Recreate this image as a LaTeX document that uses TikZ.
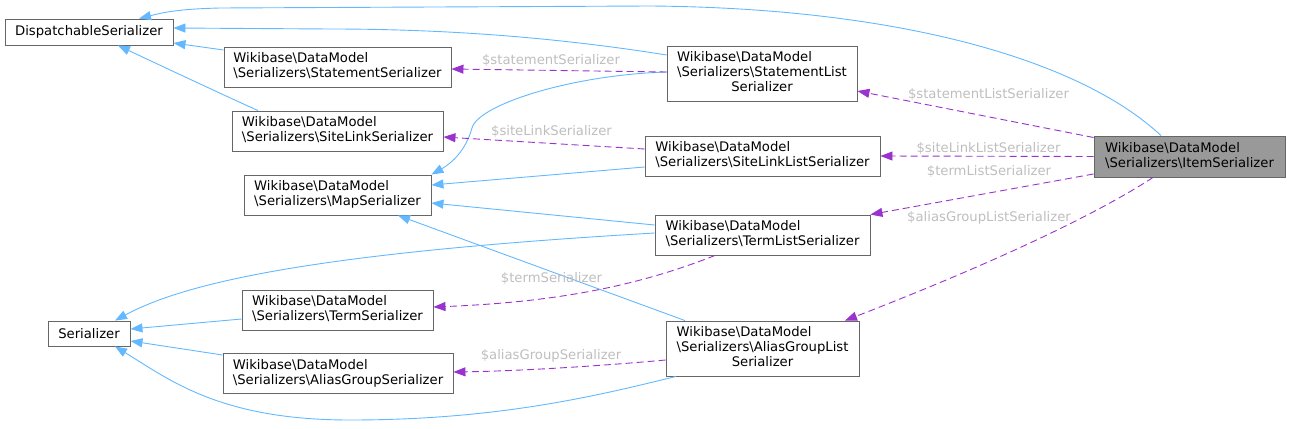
\documentclass[tikz,border=0pt]{standalone}
\usepackage{fontspec}
\setmainfont{DejaVu Sans}
\usepackage{xcolor}
\usetikzlibrary{arrows.meta, positioning, calc}
\definecolor{inheritblue}{HTML}{63B8FF}
\definecolor{memberpurple}{HTML}{9A32CD}
\definecolor{boxgray}{HTML}{666666}
\definecolor{labelgray}{HTML}{BEBEBE}
\definecolor{focusgray}{HTML}{999999}
\newcommand{\bsl}{\textbackslash}
\newcommand{\clsTwo}[2]{\begin{tabular}{@{}l@{}}#1\\#2\end{tabular}}
\newcommand{\clsThree}[3]{\begin{tabular}{@{}l@{}}#1\\#2\\\multicolumn{1}{@{}c@{}}{#3}\end{tabular}}

\begin{document}
\begin{tikzpicture}[x=1pt, y=-1pt,
    cls/.style={draw=boxgray, fill=white, line width=0.9pt, inner sep=0pt, font=\fontsize{13.2}{15}\selectfont},
    focus/.style={cls, fill=focusgray},
    inherit/.style={draw=inheritblue, line width=0.9pt, -{Triangle[length=12pt,width=9pt]}},
    member/.style={draw=memberpurple, line width=0.9pt, dash pattern=on 7pt off 4pt, -{Triangle[length=12pt,width=9pt]}},
    memberlbl/.style={text=labelgray, inner sep=0pt, font=\fontsize{13.2}{15}\selectfont}]
    \useasboundingbox (0,0) rectangle (1289,428);
    \node[cls, minimum width=168, minimum height=26] (disp) at (89,32) {DispatchableSerializer};
    \node[cls, minimum width=227, minimum height=40] (stmt) at (337.5,67) {\clsTwo{Wikibase\bsl DataModel}{\bsl Serializers\bsl StatementSerializer}};
    \node[cls, minimum width=211, minimum height=40] (sitel) at (337.5,131) {\clsTwo{Wikibase\bsl DataModel}{\bsl Serializers\bsl SiteLinkSerializer}};
    \node[cls, minimum width=187, minimum height=40] (map) at (337.5,195) {\clsTwo{Wikibase\bsl DataModel}{\bsl Serializers\bsl MapSerializer}};
    \node[cls, minimum width=82, minimum height=25] (ser) at (89,333.5) {Serializer};
    \node[cls, minimum width=191, minimum height=40] (term) at (337.5,310) {\clsTwo{Wikibase\bsl DataModel}{\bsl Serializers\bsl TermSerializer}};
    \node[cls, minimum width=230, minimum height=40] (alias) at (338,373.5) {\clsTwo{Wikibase\bsl DataModel}{\bsl Serializers\bsl AliasGroupSerializer}};
    \node[cls, minimum width=190, minimum height=55] (stlist) at (762,73.5) {\clsThree{Wikibase\bsl DataModel}{\bsl Serializers\bsl StatementList}{Serializer}};
    \node[cls, minimum width=235, minimum height=40] (sllist) at (762.5,156) {\clsTwo{Wikibase\bsl DataModel}{\bsl Serializers\bsl SiteLinkListSerializer}};
    \node[cls, minimum width=215, minimum height=40] (tlist) at (762.5,235) {\clsTwo{Wikibase\bsl DataModel}{\bsl Serializers\bsl TermListSerializer}};
    \node[cls, minimum width=193, minimum height=55] (aglist) at (762.5,348.5) {\clsThree{Wikibase\bsl DataModel}{\bsl Serializers\bsl AliasGroupList}{Serializer}};
    \node[focus, minimum width=191, minimum height=41] (item) at (1189.5,156.5) {\clsTwo{Wikibase\bsl DataModel}{\bsl Serializers\bsl ItemSerializer}};

    \draw[inherit] ([xshift=-28.5]item.north) .. controls (1080,60) and (900,8) .. (650,6) -- (220,8) .. controls (180,9) and (165,12) .. ([xshift=50]disp.north);
    \draw[inherit] ([yshift=18.5]stlist.west) .. controls (560,38) and (450,29) .. (330,29) -- ([yshift=4]disp.east);
    \draw[inherit] ([yshift=17]stmt.west) -- ([yshift=-11]disp.east);
    \draw[inherit] ([xshift=-79.5]sitel.north) .. controls (230,98) and (170,70) .. ([xshift=29]disp.south);
    \draw[inherit] ([yshift=1.5]stlist.west) .. controls (570,75) and (478,105) .. (472,128) .. controls (466,150) and (452,163) .. (map.north east);
    \draw[inherit] ([yshift=-11]sllist.west) -- ([yshift=10]map.east);
    \draw[inherit] ([yshift=10]tlist.west) -- ([yshift=-8]map.east);
    \draw[inherit] ([xshift=-77.5]aglist.north) -- ([xshift=60.5]map.south);
    \draw[inherit] ([yshift=2]tlist.west) .. controls (330,252) and (190,280) .. ([xshift=26]ser.north);
    \draw[inherit] ([yshift=-9]term.west) -- ([yshift=4.5]ser.east);
    \draw[inherit] ([yshift=18.5]alias.west) -- ([yshift=-7.5]ser.east);
    \draw[inherit] ([xshift=-86.5]aglist.south) .. controls (600,395) and (500,420) .. (350,420) .. controls (220,420) and (170,380) .. ([xshift=26]ser.south);

    \draw[member] ([yshift=19]item.west) -- ([yshift=-17.5]stlist.east);
    \draw[member] (item.west) -- (sllist.east);
    \draw[member] ([yshift=-17.5]item.west) -- (tlist.north east);
    \draw[member] ([xshift=-36.5]item.south) .. controls (1080,225) and (950,280) .. ([xshift=82.5]aglist.north);
    \draw[member] ([yshift=1.5]stlist.west) -- ([yshift=-2]stmt.east);
    \draw[member] ([yshift=7]sllist.west) -- ([yshift=-6]sitel.east);
    \draw[member] ([xshift=-47.5]tlist.south) .. controls (640,285) and (560,302) .. ([yshift=3]term.east);
    \draw[member] ([yshift=-11.5]aglist.west) .. controls (600,366) and (520,371) .. ([yshift=1.5]alias.east);

    \node[memberlbl] (lstlist) at (988.5,94) {\$statementListSerializer};
    \node[memberlbl] (lsllist) at (988.5,148) {\$siteLinkListSerializer};
    \node[memberlbl] (ltlist) at (989,171) {\$termListSerializer};
    \node[memberlbl] (laglist) at (989,218) {\$aliasGroupListSerializer};
    \node[memberlbl] (lstmt) at (551,60) {\$statementSerializer};
    \node[memberlbl] (lsitel) at (551.5,131) {\$siteLinkSerializer};
    \node[memberlbl] (lterm) at (551.5,278) {\$termSerializer};
    \node[memberlbl] (lalias) at (551,356) {\$aliasGroupSerializer};
\end{tikzpicture}
\end{document}
